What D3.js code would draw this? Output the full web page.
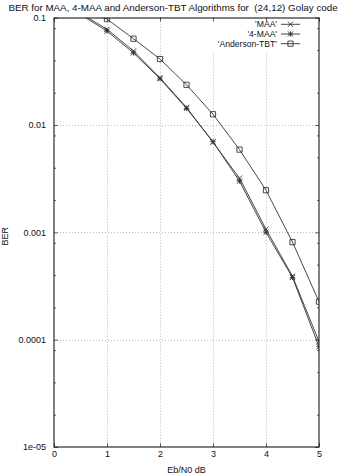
<!DOCTYPE html>
<html><head><meta charset="utf-8">
<script src="https://cdn.jsdelivr.net/npm/d3@7"></script>
<style>
html,body{margin:0;padding:0;background:#fff;}
svg{display:block;}
text{font-family:"Liberation Sans",Arial,Helvetica,sans-serif;fill:#111;white-space:pre;}
</style></head>
<body>
<script>
// ---- data ----
const titleText = "BER for MAA, 4-MAA and Anderson-TBT Algorithms for  (24,12) Golay code";
const xLabel = "Eb/N0 dB";
const yLabel = "BER";
const xTicks = [0, 1, 2, 3, 4, 5];
const xTickLabels = ["0", "1", "2", "3", "4", "5"];
const yTicks = [0.1, 0.01, 0.001, 0.0001, 0.00001];
const yTickLabels = ["0.1", "0.01", "0.001", "0.0001", "1e-05"];
const seriesNames = ["'MAA'", "'4-MAA'", "'Anderson-TBT'"];
const ebn0 = [0.5, 1, 1.5, 2, 2.5, 3, 3.5, 4, 4.5, 5];
const berMAA = [0.11, 0.078, 0.049, 0.0275, 0.0146, 0.0069, 0.0032, 0.00107, 0.00039, 0.000096];
const ber4MAA = [0.107, 0.075, 0.047, 0.027, 0.0143, 0.0070, 0.0030, 0.00100, 0.00038, 0.000086];
const berAnderson = [0.12, 0.097, 0.0637, 0.0412, 0.0237, 0.0126, 0.0059, 0.00247, 0.00081, 0.000226];
const minorLeft = [2, 4, 8];
const minorRight = [2, 5, 8];

const W = 346, H = 475;
const L = 54, R = 319, T = 17.7, B = 447;

const svg = d3.select("body").append("svg").attr("width", W).attr("height", H);
const x = d3.scaleLinear().domain([0, 5]).range([L, R]);
const y = d3.scaleLog().domain([1e-5, 0.1]).range([B, T]);

// title
svg.append("text").attr("x", W / 2).attr("y", 10.5).attr("text-anchor", "middle")
  .attr("font-size", 9.8).text(titleText);

// grid
const gridX = xTicks.filter(d => d > 0 && d < 5);
const gridY = yTicks.filter(d => d < 0.1 && d > 1e-5);
const grid = svg.append("g").attr("stroke", "#aaa").attr("stroke-width", 0.8).attr("stroke-dasharray", "1,2");
grid.selectAll("line.gx").data(gridX).join("line")
  .attr("x1", d => x(d) + 0.5).attr("x2", d => x(d) + 0.5).attr("y1", T).attr("y2", B);
grid.selectAll("line.gy").data(gridY).join("line")
  .attr("x1", L).attr("x2", R).attr("y1", d => Math.round(y(d)) + 0.5).attr("y2", d => Math.round(y(d)) + 0.5);

// legend background (occludes grid)
svg.append("rect").attr("x", 205).attr("y", T + 1).attr("width", R - 206).attr("height", 33).attr("fill", "#fff");

// minor tick values
const decades = [0.01, 0.001, 0.0001, 0.00001];
const minL = decades.flatMap(e => minorLeft.map(m => m * e));
const minR = decades.flatMap(e => minorRight.map(m => m * e));

// axes
const axL = svg.append("g").attr("transform", `translate(${L},0)`)
  .call(d3.axisLeft(y).tickValues(yTicks).tickFormat((d, i) => yTickLabels[i]).tickSizeInner(-4).tickSizeOuter(0).tickPadding(8));
const axLm = svg.append("g").attr("transform", `translate(${L},0)`)
  .call(d3.axisLeft(y).tickValues(minL).tickFormat("").tickSizeInner(-2).tickSizeOuter(0));
const axR = svg.append("g").attr("transform", `translate(${R},0)`)
  .call(d3.axisRight(y).tickValues(yTicks).tickFormat("").tickSizeInner(-4).tickSizeOuter(0));
const axRm = svg.append("g").attr("transform", `translate(${R},0)`)
  .call(d3.axisRight(y).tickValues(minR).tickFormat("").tickSizeInner(-2).tickSizeOuter(0));
const axB = svg.append("g").attr("transform", `translate(0,${B})`)
  .call(d3.axisBottom(x).tickValues(xTicks).tickFormat((d, i) => xTickLabels[i]).tickSizeInner(-4).tickSizeOuter(0).tickPadding(4));
const axT = svg.append("g").attr("transform", `translate(0,${T})`)
  .call(d3.axisTop(x).tickValues(xTicks).tickFormat("").tickSizeInner(-4).tickSizeOuter(0));
[axL, axLm, axR, axRm, axB, axT].forEach(g => {
  g.select(".domain").remove();
  g.selectAll(".tick line").attr("stroke", "#666").attr("stroke-width", 1);
  g.selectAll(".tick text").attr("font-size", 9).attr("fill", "#111")
    .attr("font-family", "'Liberation Sans',Arial,sans-serif");
});

// frame
svg.append("rect").attr("x", L).attr("y", Math.round(T)).attr("width", R - L).attr("height", B - Math.round(T))
  .attr("fill", "none").attr("stroke", "#000").attr("stroke-width", 1);

// axis labels
svg.append("text").attr("x", (L + R) / 2).attr("y", 473).attr("text-anchor", "middle").attr("font-size", 9).text(xLabel);
svg.append("text").attr("transform", `translate(7.5,${(T + B) / 2 + 4}) rotate(-90)`).attr("text-anchor", "middle")
  .attr("font-size", 9).text(yLabel);

// clip
svg.append("defs").append("clipPath").attr("id", "clip").append("rect")
  .attr("x", L).attr("y", T).attr("width", R - L).attr("height", B - T);

const series = [
  { name: seriesNames[0], vals: berMAA, marker: "x" },
  { name: seriesNames[1], vals: ber4MAA, marker: "star" },
  { name: seriesNames[2], vals: berAnderson, marker: "square" }
];
const line = d3.line().x(d => x(d[0])).y(d => y(d[1]));
const lineColor = "#333";

function markerPath(type, cx, cy) {
  const s = 2.6;
  if (type === "x") return `M${cx - s},${cy - s}L${cx + s},${cy + s}M${cx - s},${cy + s}L${cx + s},${cy - s}`;
  if (type === "star") return `M${cx - s},${cy - s}L${cx + s},${cy + s}M${cx - s},${cy + s}L${cx + s},${cy - s}M${cx - s},${cy}L${cx + s},${cy}M${cx},${cy - s}L${cx},${cy + s}`;
  const q = 2.6;
  return `M${cx - q},${cy - q}H${cx + q}V${cy + q}H${cx - q}Z`;
}

const plot = svg.append("g").attr("clip-path", "url(#clip)");
series.forEach(s => {
  const pts = ebn0.map((e, i) => [e, s.vals[i]]);
  plot.append("path").datum(pts).attr("d", line).attr("fill", "none").attr("stroke", lineColor).attr("stroke-width", 0.9);
  plot.selectAll(null).data(pts).join("path")
    .attr("d", d => markerPath(s.marker, x(d[0]), y(d[1])))
    .attr("fill", "none").attr("stroke", lineColor).attr("stroke-width", 0.9);
});

// legend
const legY = [24.3, 34, 43.7];
series.forEach((s, i) => {
  svg.append("text").attr("x", 277).attr("y", legY[i] + 3.1).attr("text-anchor", "end").attr("font-size", 8.6).text(s.name);
  svg.append("line").attr("x1", 281).attr("x2", 300).attr("y1", legY[i]).attr("y2", legY[i])
    .attr("stroke", lineColor).attr("stroke-width", 0.9);
  svg.append("path").attr("d", markerPath(s.marker, 290.5, legY[i])).attr("fill", "none")
    .attr("stroke", lineColor).attr("stroke-width", 0.9);
});
</script>
</body></html>
